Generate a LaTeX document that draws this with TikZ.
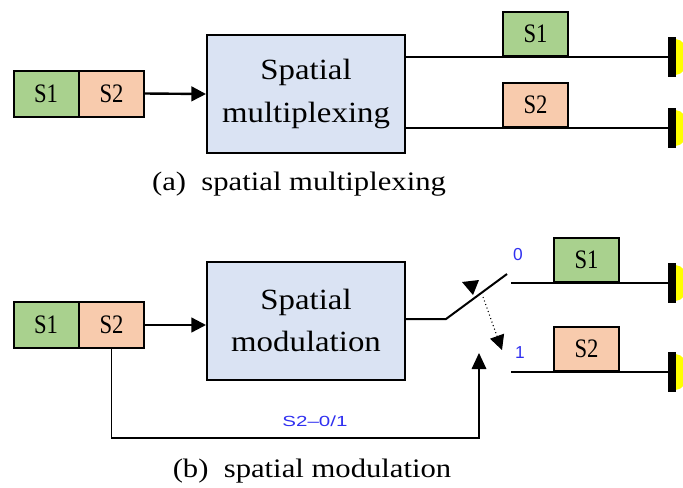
\documentclass[tikz,border=0pt]{standalone}
\usepackage{fontspec}
\usepackage{graphicx}
\setmainfont{Liberation Serif}
\newfontfamily\labfont{Liberation Sans}
\usetikzlibrary{arrows.meta}
\definecolor{sgreen}{HTML}{A9D18E}
\definecolor{speach}{HTML}{F8CBAD}
\definecolor{blockfill}{HTML}{DAE3F3}
\definecolor{labblue}{HTML}{3030F0}
\definecolor{antyellow}{HTML}{FFFF00}
\newcommand{\stretchx}[2]{\scalebox{#1}[1]{#2}}
\begin{document}
\begin{tikzpicture}[x=0.75pt,y=-0.75pt,
  sym/.style={draw=black, line width=1.5pt, inner sep=0pt,
    minimum width=48.75pt, minimum height=34.5pt,
    font=\fontsize{20}{22}\selectfont},
  outsym/.style={sym, minimum height=33pt, anchor=south},
  block/.style={draw=black, line width=1.5pt, fill=blockfill, inner sep=0pt,
    minimum width=148.5pt, minimum height=88.5pt, align=center,
    font=\fontsize{22}{32}\selectfont},
  wire/.style={line width=1.5pt},
  feed/.style={line width=1.8pt, -{Triangle[length=11pt,width=11pt]}},
  fbwire/.style={line width=0.9pt, -{Triangle[length=12pt,width=11pt]}},
  caption/.style={font=\fontsize{20}{22}\selectfont},
  bitlab/.style={text=labblue, font=\labfont\fontsize{11}{12}\selectfont},
  antenna/.pic={
    \begin{scope}
      \clip (3.5,-25) rectangle (20,25);
      \fill[antyellow] (3.5,0) ellipse [x radius=12, y radius=18];
    \end{scope}
    \draw[line width=5.5pt] (0,-20) -- (0,20);
  }]
\clip (0,0) rectangle (683,487);
\fill[white] (0,0) rectangle (683,487);

% ---------- (a) spatial multiplexing ----------
\node[sym, fill=sgreen] (inA1) at (46,93.5) {\stretchx{0.85}{S1}};
\node[sym, fill=speach] (inA2) at (111.5,93.5) {\stretchx{0.85}{S2}};
\node[block] (boxA) at (306,94) {\stretchx{1.12}{Spatial}\\\stretchx{1.12}{multiplexing}};
\draw[feed] (inA2.east) -- (boxA.west);

\coordinate (antA1) at (672,57);
\coordinate (antA2) at (672,128);
\draw[wire] (boxA.east |- antA1) -- (antA1);
\draw[wire] (boxA.east |- antA2) -- (antA2);
\node[outsym, fill=sgreen] (outA1) at (535.5,57) {\stretchx{0.85}{S1}};
\node[outsym, fill=speach] (outA2) at (535.5,128) {\stretchx{0.85}{S2}};
\pic at (antA1) {antenna};
\pic at (antA2) {antenna};

\node[caption] (capA) at (299,184) {\stretchx{1.15}{(a)~~spatial multiplexing}};

% ---------- (b) spatial modulation ----------
\node[sym, fill=sgreen] (inB1) at (46,325) {\stretchx{0.85}{S1}};
\node[sym, fill=speach] (inB2) at (111.5,325) {\stretchx{0.85}{S2}};
\node[block] (boxB) at (306,320.5) {\stretchx{1.12}{Spatial}\\\stretchx{1.12}{modulation}};
\draw[feed] (inB2.east) -- (inB2.east -| boxB.west);

% switch
\coordinate (pivot) at (446,319);
\coordinate (armEnd) at (507,274);
\draw[wire] (boxB.east |- pivot) -- (pivot) -- (armEnd);
\fill (462,282) -- (479,280) -- (473,295) -- cycle;
\coordinate (swFrom) at (483,297);
\coordinate (swTo) at (502,350);
\draw[line width=0.8pt, dotted, -{Triangle[length=11pt,width=11pt]}] (swFrom) -- (swTo);

% outputs
\coordinate (portB1) at (511,283);
\coordinate (portB2) at (511,372);
\coordinate (antB1) at (672,283);
\coordinate (antB2) at (672,372);
\draw[wire] (portB1) -- (antB1);
\draw[wire] (portB2) -- (antB2);
\node[outsym, fill=sgreen] (outB1) at (586.5,283) {\stretchx{0.85}{S1}};
\node[outsym, fill=speach] (outB2) at (586.5,372) {\stretchx{0.85}{S2}};
\pic at (antB1) {antenna};
\pic at (antB2) {antenna};
\node[bitlab, font=\labfont\fontsize{13}{14}\selectfont] (bit0) at (518,255) {0};
\node[bitlab, font=\labfont\fontsize{13}{14}\selectfont] (bit1) at (520,353) {1};

% selection feedback from S2
\coordinate (fbLow) at (479,438);
\coordinate (fbTip) at (479,353);
\draw[fbwire] (inB2.south) |- (fbLow) -- (fbTip);
\node[bitlab] (sel) at (315,421) {\stretchx{1.4}{S2–0/1}};

\node[caption] (capB) at (312,471) {\stretchx{1.15}{(b)~~spatial modulation}};
\end{tikzpicture}
\end{document}
